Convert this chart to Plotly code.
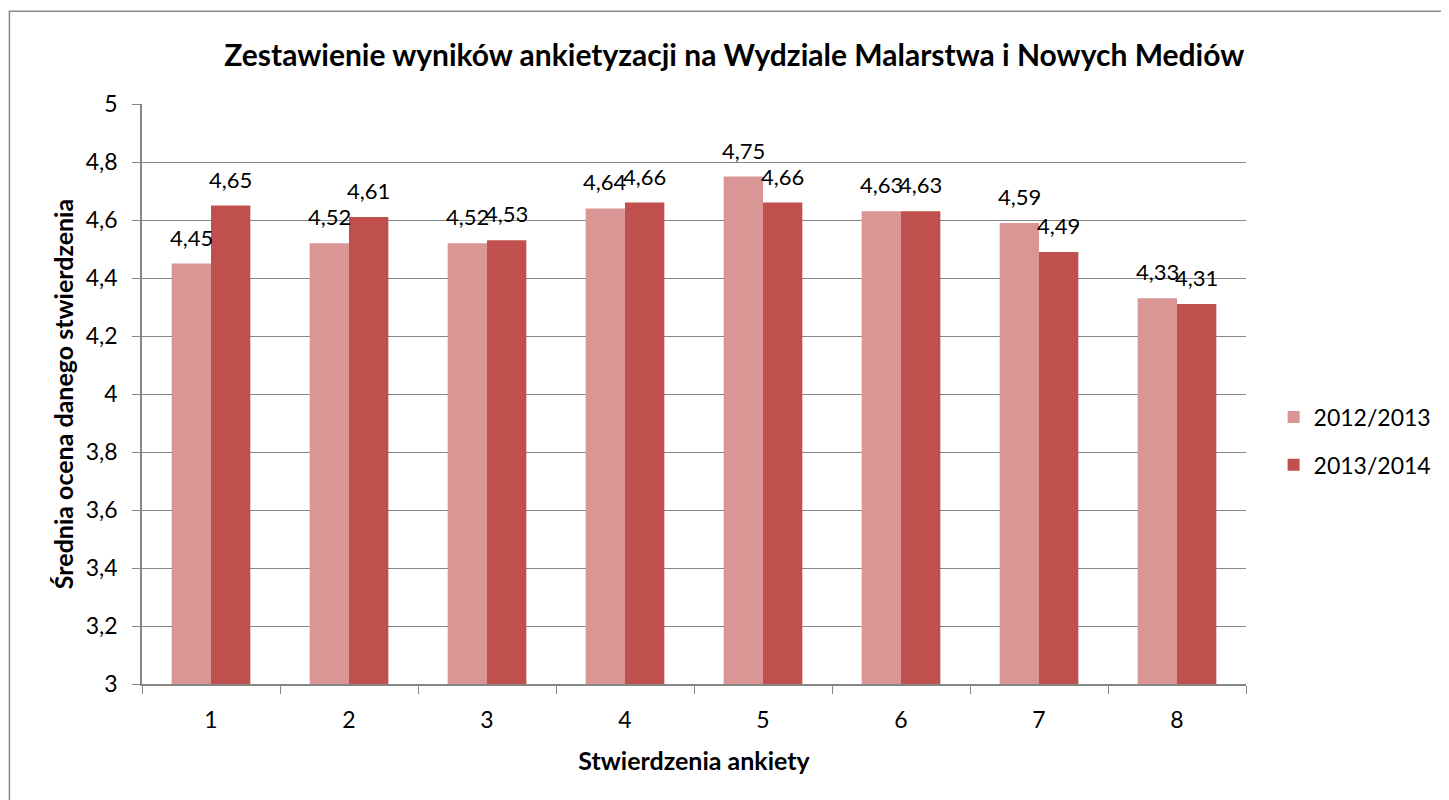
import plotly.graph_objects as go

categories = ["1", "2", "3", "4", "5", "6", "7", "8"]
y2012 = [4.45, 4.52, 4.52, 4.64, 4.75, 4.63, 4.59, 4.33]
y2013 = [4.65, 4.61, 4.53, 4.66, 4.66, 4.63, 4.49, 4.31]
series_names = ["2012/2013", "2013/2014"]
colors = ["#D99694", "#C0504D"]

FONT = "Lato"
GRID = "#868686"
BARGAP = 0.43
PLOT_W = 1107

fig = go.Figure()
for name, vals, col, grp in zip(series_names, [y2012, y2013], colors, ["a", "b"]):
    fig.add_trace(go.Bar(
        x=categories, y=vals, name=name,
        marker=dict(color=col, line=dict(width=0)),
        legendgroup=grp,
    ))

# data labels sit a bit higher above the bars than plotly's outside text
bar_px = PLOT_W / len(categories) * (1 - BARGAP) / 2
for vals, side in [(y2012, -1), (y2013, 1)]:
    for i, v in enumerate(vals):
        fig.add_annotation(
            x=i, y=v, xref="x", yref="y",
            text=f"{v:.2f}".replace(".", ","), showarrow=False,
            xshift=side * bar_px / 2, yshift=11, yanchor="bottom",
            font=dict(size=22, color="black", family=FONT),
        )

# chart border like the excel frame
fig.add_shape(type="rect", xref="paper", yref="paper",
              x0=-0.1201, x1=1.5, y0=-0.5, y1=1.160,
              line=dict(color="#898989", width=1.5))

fig.update_layout(
    width=1441, height=792,
    margin=dict(l=134, r=200, t=96, b=116),
    paper_bgcolor="white", plot_bgcolor="white",
    separators=", ",
    font=dict(family=FONT, size=23, color="black"),
    barmode="group", bargap=BARGAP, bargroupgap=0,
    title=dict(
        text="<b>Zestawienie wyników ankietyzacji na Wydziale Malarstwa i Nowych Mediów</b>",
        x=0.504, xanchor="center", y=1 - 47 / 792, yanchor="middle",
        font=dict(size=30, family=FONT),
    ),
    xaxis=dict(
        type="category", tickson="boundaries", ticks="outside", ticklen=8,
        tickcolor=GRID, showline=True, linecolor=GRID, linewidth=1.5,
        showgrid=False, tickfont=dict(size=23), ticklabelstandoff=15,
        range=[-0.5, len(categories) - 0.5],
        title=dict(text="<b>Stwierdzenia ankiety</b>", font=dict(size=25), standoff=20),
    ),
    yaxis=dict(
        range=[3, 5], dtick=0.2, tick0=3, ticks="outside", ticklen=8,
        tickcolor=GRID, showline=True, linecolor=GRID, linewidth=1.5,
        showgrid=True, gridcolor=GRID, gridwidth=1, zeroline=False,
        tickfont=dict(size=23), ticklabelstandoff=10,
        title=dict(text="<b>Średnia ocena danego stwierdzenia</b>", font=dict(size=25), standoff=5),
    ),
    legend=dict(
        x=1.025, xanchor="left", xref="paper", y=0.419, yanchor="middle",
        font=dict(size=23), traceorder="grouped", tracegroupgap=15,
        bgcolor="rgba(0,0,0,0)",
    ),
)

fig.write_html("out.html")
